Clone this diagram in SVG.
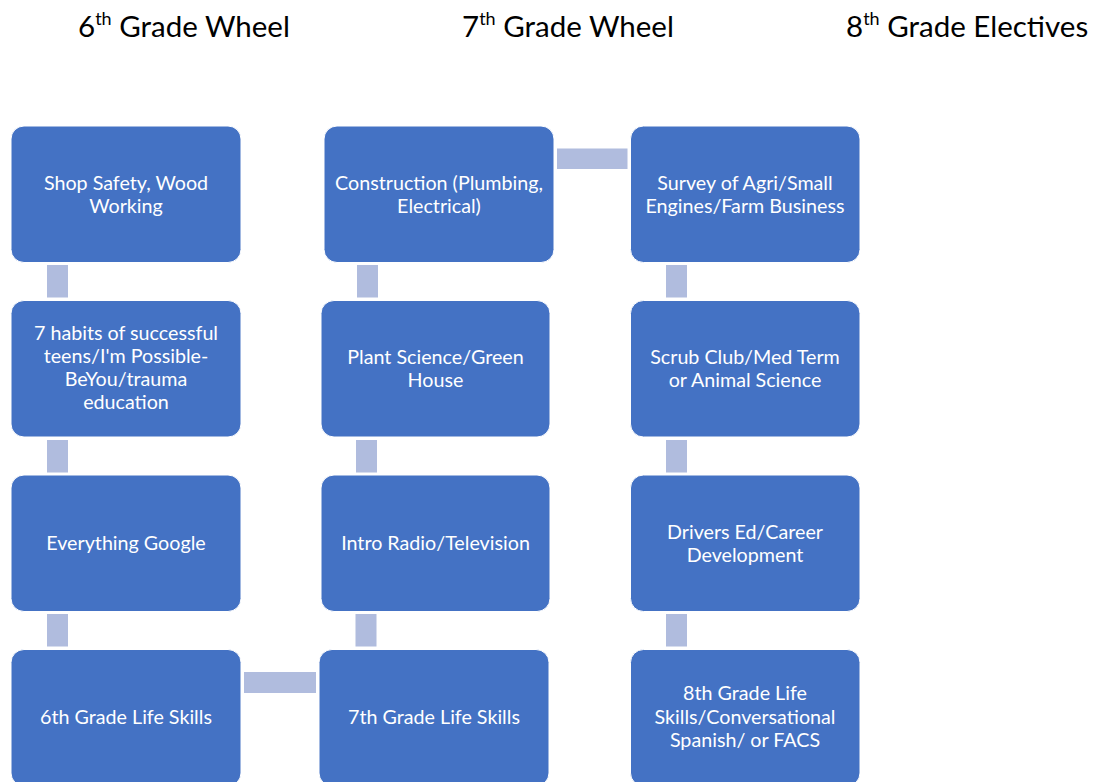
<svg xmlns="http://www.w3.org/2000/svg" width="1094" height="782" viewBox="0 0 1094 782">
<style>
.hdr{font-family:Lato,"Open Sans","Liberation Sans",sans-serif;font-size:29.5px;fill:#000;}
.sup{font-size:18px;}
.box{fill:#4472C4;stroke:#ffffff;stroke-width:1;}
.lbl{font-family:Lato,"Open Sans","Liberation Sans",sans-serif;font-size:19.7px;fill:#ffffff;text-anchor:middle;}
.con{fill:#B0BCDE;}
</style>
<rect width="1094" height="782" fill="#ffffff"/>
<g id="headers">
<text class="hdr" x="78" y="36.5">6<tspan class="sup" dy="-11.5">th</tspan><tspan dy="11.5"> Grade Wheel</tspan></text>
<text class="hdr" x="462" y="36.5">7<tspan class="sup" dy="-11.5">th</tspan><tspan dy="11.5"> Grade Wheel</tspan></text>
<text class="hdr" x="846" y="36.5">8<tspan class="sup" dy="-11.5">th</tspan><tspan dy="11.5"> Grade Electives</tspan></text>
</g>
<g id="connectors">
<rect class="con" x="47" y="265" width="21" height="32.5"/>
<rect class="con" x="47" y="440" width="21" height="32.5"/>
<rect class="con" x="47" y="614" width="21" height="32.5"/>
<rect class="con" x="244" y="672" width="72" height="21"/>
<rect class="con" x="355.5" y="614" width="21" height="32.5"/>
<rect class="con" x="356" y="440" width="21" height="32.5"/>
<rect class="con" x="357" y="265" width="21" height="32.5"/>
<rect class="con" x="557" y="148.5" width="70.5" height="20.5"/>
<rect class="con" x="666" y="265" width="21" height="32.5"/>
<rect class="con" x="666" y="440" width="21" height="32.5"/>
<rect class="con" x="666" y="614" width="21" height="32.5"/>
</g>
<g id="n1"><rect class="box" x="11" y="126" width="230" height="136.5" rx="13"/>
<text class="lbl" x="126" y="190">Shop Safety, Wood</text><text class="lbl" x="126" y="212.5">Working</text></g>
<g id="n2"><rect class="box" x="11" y="300.5" width="230" height="136.5" rx="13"/>
<text class="lbl" x="126" y="340">7 habits of successful</text><text class="lbl" x="126" y="363">teens/I'm Possible-</text><text class="lbl" x="126" y="386">BeYou/trauma</text><text class="lbl" x="126" y="409">education</text></g>
<g id="n3"><rect class="box" x="11" y="475" width="230" height="136.5" rx="13"/>
<text class="lbl" x="126" y="550">Everything Google</text></g>
<g id="n4"><rect class="box" x="11" y="649.5" width="230" height="136.5" rx="13"/>
<text class="lbl" x="126" y="724">6th Grade Life Skills</text></g>
<g id="n5"><rect class="box" x="319" y="649.5" width="230" height="136.5" rx="13"/>
<text class="lbl" x="434" y="724">7th Grade Life Skills</text></g>
<g id="n6"><rect class="box" x="321" y="475" width="229" height="136.5" rx="13"/>
<text class="lbl" x="435.5" y="550">Intro Radio/Television</text></g>
<g id="n7"><rect class="box" x="321" y="300.5" width="229" height="136.5" rx="13"/>
<text class="lbl" x="435.5" y="364">Plant Science/Green</text><text class="lbl" x="435.5" y="386.5">House</text></g>
<g id="n8"><rect class="box" x="324" y="126" width="230" height="136.5" rx="13"/>
<text class="lbl" x="439" y="190">Construction (Plumbing,</text><text class="lbl" x="439" y="212.5">Electrical)</text></g>
<g id="n9"><rect class="box" x="630.5" y="126" width="229.5" height="136.5" rx="13"/>
<text class="lbl" x="745" y="190">Survey of Agri/Small</text><text class="lbl" x="745" y="212.5">Engines/Farm Business</text></g>
<g id="n10"><rect class="box" x="630.5" y="300.5" width="229.5" height="136.5" rx="13"/>
<text class="lbl" x="745" y="364">Scrub Club/Med Term</text><text class="lbl" x="745" y="386.5">or Animal Science</text></g>
<g id="n11"><rect class="box" x="630.5" y="475" width="229.5" height="136.5" rx="13"/>
<text class="lbl" x="745" y="538.5">Drivers Ed/Career</text><text class="lbl" x="745" y="561.5">Development</text></g>
<g id="n12"><rect class="box" x="630.5" y="649.5" width="229.5" height="136.5" rx="13"/>
<text class="lbl" x="745" y="700">8th Grade Life</text><text class="lbl" x="745" y="723.5">Skills/Conversational</text><text class="lbl" x="745" y="747">Spanish/ or FACS</text></g>
</svg>
